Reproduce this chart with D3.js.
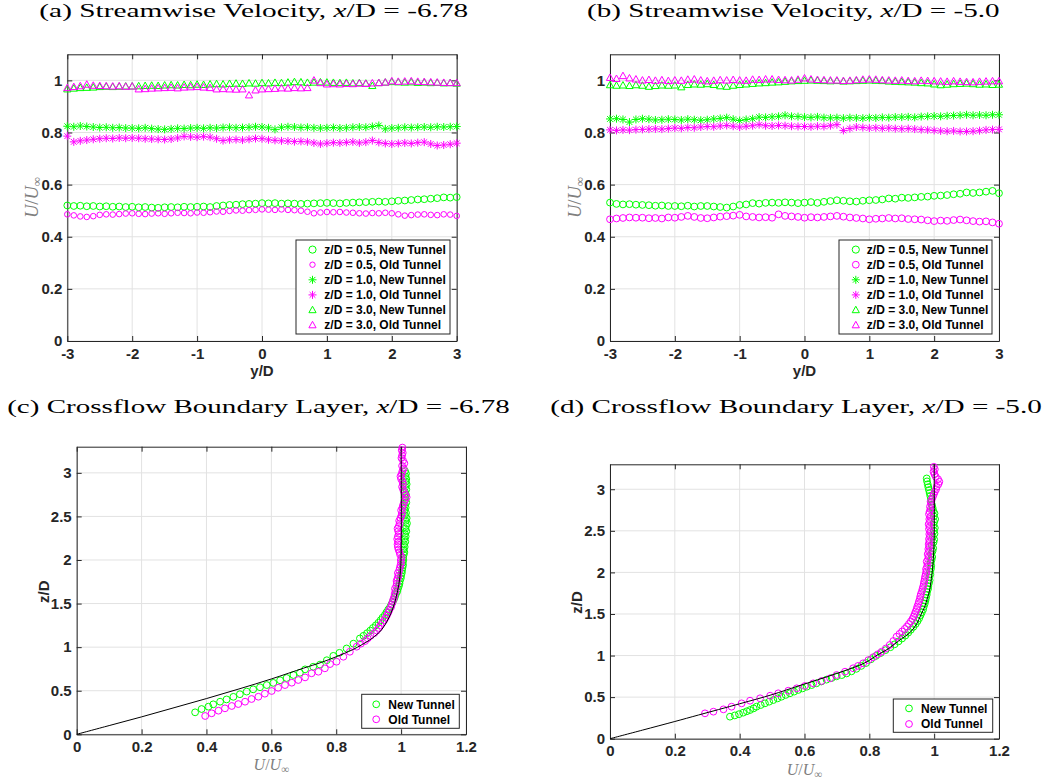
<!DOCTYPE html>
<html>
<head>
<meta charset="utf-8">
<script src="https://cdn.jsdelivr.net/npm/d3@7"></script>
<style>
  body { margin: 0; background: #fff; }
  svg { display: block; font-family: "Liberation Sans", Arial, sans-serif; }
  .tick text { font-weight: bold; font-size: 15px; fill: #262626; }
</style>
</head>
<body>
<script>
// ---- data ----
const yD = [-3.0,-2.9,-2.8,-2.7,-2.6,-2.5,-2.4,-2.3,-2.2,-2.1,
  -2.0,-1.9,-1.8,-1.7,-1.6,-1.5,-1.4,-1.3,-1.2,-1.1,
  -1.0,-0.9,-0.8,-0.7,-0.6,-0.5,-0.4,-0.3,-0.2,-0.1,
  0.0,0.1,0.2,0.3,0.4,0.5,0.6,0.7,0.8,0.9,
  1.0,1.1,1.2,1.3,1.4,1.5,1.6,1.7,1.8,1.9,
  2.0,2.1,2.2,2.3,2.4,2.5,2.6,2.7,2.8,2.9,
  3.0];

// (a) x/D = -6.78
const aNew05 = [0.520,0.518,0.519,0.517,0.518,0.516,0.517,0.515,0.516,0.514,
  0.515,0.513,0.514,0.512,0.511,0.513,0.514,0.513,0.515,0.514,
  0.515,0.516,0.514,0.518,0.520,0.522,0.523,0.525,0.526,0.527,
  0.529,0.528,0.529,0.527,0.528,0.527,0.526,0.527,0.528,0.529,
  0.530,0.529,0.528,0.530,0.531,0.532,0.533,0.534,0.535,0.534,
  0.536,0.538,0.539,0.541,0.543,0.544,0.546,0.548,0.551,0.550,
  0.552];
const aOld05 = [0.486,0.482,0.478,0.476,0.479,0.484,0.486,0.485,0.487,0.489,
  0.490,0.488,0.487,0.489,0.490,0.488,0.490,0.492,0.491,0.490,
  0.493,0.492,0.494,0.497,0.496,0.499,0.501,0.500,0.502,0.503,
  0.505,0.504,0.503,0.505,0.503,0.502,0.500,0.496,0.490,0.493,
  0.495,0.494,0.495,0.493,0.492,0.490,0.489,0.491,0.490,0.492,
  0.490,0.486,0.481,0.483,0.485,0.486,0.484,0.483,0.486,0.485,
  0.480];
const aNew10 = [0.824,0.822,0.825,0.823,0.821,0.819,0.820,0.818,0.819,0.817,
  0.817,0.816,0.818,0.815,0.813,0.812,0.814,0.816,0.815,0.817,
  0.818,0.816,0.818,0.817,0.819,0.820,0.818,0.819,0.820,0.822,
  0.821,0.818,0.812,0.820,0.822,0.821,0.819,0.820,0.818,0.817,
  0.818,0.819,0.817,0.818,0.820,0.821,0.820,0.823,0.827,0.814,
  0.817,0.818,0.820,0.819,0.820,0.821,0.820,0.822,0.821,0.822,
  0.823];
const aOld10 = [0.786,0.764,0.768,0.771,0.774,0.776,0.778,0.777,0.779,0.778,
  0.779,0.778,0.776,0.775,0.774,0.773,0.775,0.779,0.785,0.783,
  0.782,0.784,0.782,0.776,0.769,0.772,0.773,0.771,0.774,0.777,
  0.776,0.772,0.770,0.768,0.767,0.765,0.766,0.764,0.760,0.756,
  0.759,0.761,0.760,0.762,0.764,0.760,0.763,0.769,0.762,0.758,
  0.756,0.758,0.760,0.758,0.761,0.763,0.756,0.750,0.752,0.755,
  0.759];
const aNew30 = [0.966,0.969,0.971,0.972,0.973,0.975,0.976,0.975,0.976,0.977,
  0.977,0.978,0.979,0.980,0.979,0.981,0.982,0.981,0.983,0.982,
  0.984,0.983,0.985,0.986,0.985,0.987,0.988,0.987,0.989,0.988,
  0.990,0.989,0.991,0.990,0.992,0.994,0.993,0.991,0.992,0.993,
  0.992,0.991,0.990,0.991,0.989,0.990,0.988,0.979,0.990,0.992,
  0.994,0.993,0.992,0.993,0.991,0.992,0.990,0.991,0.989,0.990,
  0.988];
const aOld30 = [0.971,0.975,0.978,0.984,0.980,0.979,0.978,0.977,0.978,0.976,
  0.977,0.966,0.967,0.969,0.970,0.971,0.972,0.970,0.973,0.974,
  0.975,0.973,0.971,0.966,0.967,0.966,0.965,0.966,0.943,0.962,
  0.966,0.967,0.968,0.970,0.969,0.971,0.970,0.971,1.000,0.990,
  0.985,0.986,0.985,0.987,0.986,0.988,0.987,0.989,0.990,0.992,
  0.997,0.995,0.996,0.997,0.995,0.994,0.993,0.992,0.991,0.990,
  0.990];

// (b) x/D = -5.0
const bNew05 = [0.531,0.526,0.524,0.525,0.523,0.522,0.521,0.519,0.520,0.518,
  0.518,0.517,0.519,0.516,0.518,0.518,0.516,0.514,0.512,0.516,
  0.522,0.524,0.529,0.527,0.530,0.531,0.530,0.532,0.531,0.529,
  0.531,0.533,0.530,0.534,0.537,0.540,0.538,0.536,0.535,0.538,
  0.540,0.541,0.543,0.547,0.546,0.550,0.549,0.551,0.553,0.554,
  0.557,0.558,0.560,0.563,0.565,0.570,0.568,0.570,0.573,0.576,
  0.567];
const bOld05 = [0.467,0.470,0.472,0.474,0.473,0.473,0.471,0.472,0.470,0.474,
  0.473,0.476,0.480,0.476,0.472,0.471,0.474,0.477,0.479,0.481,
  0.484,0.478,0.476,0.474,0.475,0.473,0.486,0.480,0.478,0.476,
  0.473,0.475,0.474,0.476,0.478,0.480,0.477,0.474,0.472,0.470,
  0.467,0.469,0.470,0.472,0.470,0.471,0.468,0.467,0.466,0.463,
  0.460,0.462,0.461,0.464,0.466,0.463,0.460,0.458,0.459,0.455,
  0.450];
const bNew10 = [0.852,0.853,0.850,0.840,0.850,0.853,0.851,0.848,0.849,0.851,
  0.850,0.848,0.851,0.849,0.847,0.849,0.852,0.854,0.857,0.851,
  0.846,0.850,0.853,0.859,0.858,0.860,0.862,0.866,0.862,0.861,
  0.859,0.858,0.860,0.857,0.856,0.857,0.855,0.857,0.856,0.855,
  0.857,0.856,0.858,0.857,0.859,0.859,0.860,0.858,0.861,0.862,
  0.863,0.862,0.864,0.865,0.866,0.868,0.866,0.867,0.866,0.868,
  0.868];
const bOld10 = [0.810,0.808,0.810,0.809,0.811,0.812,0.813,0.814,0.813,0.815,
  0.817,0.816,0.819,0.818,0.821,0.823,0.822,0.825,0.827,0.824,
  0.821,0.824,0.826,0.830,0.826,0.825,0.827,0.826,0.824,0.823,
  0.823,0.822,0.824,0.823,0.826,0.830,0.808,0.815,0.821,0.819,
  0.817,0.818,0.816,0.817,0.815,0.814,0.815,0.813,0.811,0.810,
  0.808,0.806,0.805,0.806,0.804,0.804,0.805,0.807,0.810,0.811,
  0.812];
const bNew30 = [0.982,0.980,0.981,0.979,0.982,0.980,0.976,0.979,0.981,0.980,
  0.981,0.974,0.983,0.985,0.984,0.986,0.983,0.978,0.976,0.980,
  0.983,0.985,0.987,0.989,0.990,0.992,0.993,0.995,0.997,0.998,
  0.999,1.000,0.999,0.998,0.997,0.998,0.996,0.997,0.998,0.999,
  1.000,0.999,0.998,0.996,0.995,0.994,0.993,0.992,0.990,0.989,
  0.985,0.982,0.984,0.986,0.987,0.988,0.986,0.984,0.985,0.983,
  0.984];
const bOld30 = [1.010,1.006,1.017,1.008,1.004,1.000,1.002,0.999,1.001,0.998,
  1.000,0.999,1.003,1.004,1.000,0.997,0.999,1.001,1.000,1.002,
  1.000,0.999,1.003,1.002,1.004,1.004,1.002,1.001,1.000,1.003,
  1.008,1.004,1.002,1.001,1.000,1.000,0.998,0.999,1.001,1.003,
  1.004,1.003,1.001,1.000,0.999,1.000,0.998,0.997,0.999,0.998,
  0.997,0.996,0.995,0.997,0.995,0.994,0.993,0.995,0.996,0.997,
  0.997];

// (c) boundary layer x/D = -6.78, pairs [U/Uinf, z/D]
const cNew = [[0.365,0.252],[0.385,0.29],[0.406,0.317],[0.421,0.344],[0.442,0.374],[0.462,0.40],
  [0.483,0.43],[0.503,0.46],[0.524,0.49],[0.544,0.516],[0.565,0.54],[0.586,0.565],[0.606,0.59],
  [0.627,0.62],[0.647,0.646],[0.668,0.68],[0.688,0.706],[0.704,0.745],[0.729,0.775],[0.75,0.80],
  [0.771,0.85],[0.791,0.90],[0.81,0.935],[0.832,0.985],[0.853,1.04],[0.873,1.10],
  [0.884,1.13],[0.895,1.16],[0.905,1.19],[0.913,1.22],[0.922,1.25],[0.930,1.28],[0.937,1.31],
  [0.943,1.34],[0.950,1.37],[0.955,1.40],[0.960,1.43],[0.966,1.46],[0.970,1.49],[0.974,1.52],
  [0.978,1.55],[0.981,1.58],[0.984,1.61],[0.988,1.64],[0.990,1.67],[0.993,1.70],[0.995,1.73],
  [0.996,1.76],[0.999,1.79],[1.000,1.82],[1.002,1.85],[1.003,1.88],[1.004,1.91],[1.006,1.94],
  [1.005,1.97],[1.007,2.00],[1.006,2.03],[1.008,2.06],[1.010,2.09],[1.007,2.12],[1.011,2.15],
  [1.009,2.18],[1.013,2.21],[1.010,2.24],[1.014,2.27],[1.012,2.30],[1.016,2.33],[1.013,2.36],
  [1.015,2.39],[1.018,2.42],[1.014,2.45],[1.017,2.48],[1.012,2.51],[1.015,2.54],[1.011,2.57],
  [1.014,2.60],[1.012,2.63],[1.016,2.66],[1.013,2.69],[1.011,2.72],[1.015,2.75],[1.012,2.78],
  [1.016,2.81],[1.013,2.84],[1.017,2.87],[1.014,2.90],[1.016,2.93],[1.013,2.96],[1.015,2.99],
  [1.012,3.02]];
const cOld = [[0.396,0.21],[0.416,0.241],[0.437,0.271],[0.457,0.298],[0.478,0.325],[0.498,0.347],
  [0.519,0.374],[0.539,0.405],[0.56,0.431],[0.58,0.466],[0.601,0.497],[0.621,0.534],[0.642,0.565],
  [0.663,0.592],[0.683,0.623],[0.704,0.653],[0.724,0.70],[0.745,0.718],[0.765,0.757],[0.781,0.806],
  [0.801,0.833],[0.822,0.89],[0.842,0.947],[0.863,1.005],[0.876,1.04],[0.889,1.07],[0.897,1.10],
  [0.906,1.13],[0.917,1.16],[0.925,1.19],[0.931,1.22],[0.936,1.25],[0.942,1.28],[0.948,1.31],
  [0.953,1.34],[0.957,1.37],[0.961,1.40],[0.964,1.43],[0.969,1.46],[0.971,1.49],[0.974,1.52],
  [0.976,1.55],[0.979,1.58],[0.980,1.61],[0.983,1.64],[0.981,1.67],[0.985,1.70],[0.987,1.73],
  [0.986,1.76],[0.989,1.79],[0.992,1.82],[0.990,1.85],[0.994,1.88],[0.996,1.91],[0.998,1.94],
  [1.000,1.97],[0.999,2.00],[1.002,2.03],[0.997,2.06],[0.995,2.09],[0.992,2.12],[0.990,2.15],
  [0.989,2.18],[0.991,2.21],[0.988,2.24],[0.990,2.27],[0.993,2.30],[0.991,2.33],[0.989,2.36],
  [0.993,2.39],[0.996,2.42],[0.994,2.45],[0.998,2.48],[1.001,2.51],[1.003,2.54],[1.000,2.57],
  [1.004,2.60],[1.006,2.63],[1.009,2.66],[1.012,2.69],[1.017,2.72],[1.013,2.75],[1.009,2.78],
  [1.006,2.81],[1.003,2.84],[1.006,2.87],[1.004,2.90],[1.000,2.93],[0.998,2.96],[1.002,2.99],
  [1.004,3.02],[1.008,3.05],[1.003,3.08],[1.010,3.11],[1.006,3.14],[1.001,3.17],[1.003,3.20],
  [1.005,3.23],[1.002,3.26],[1.004,3.29]];
const cRef = [[0,0],[0.1,0.1],[0.2,0.2],[0.3,0.305],[0.4,0.41],[0.5,0.52],[0.6,0.635],[0.7,0.76],
  [0.75,0.82],[0.8,0.89],[0.85,0.97],[0.88,1.03],[0.91,1.10],[0.94,1.20],[0.96,1.32],[0.975,1.45],
  [0.985,1.58],[0.993,1.72],[0.998,1.88],[1.0,2.05],[1.0,3.3]];

// (d) boundary layer x/D = -5.0
const dNew = [[0.37,0.265],[0.385,0.28],[0.398,0.295],[0.411,0.313],[0.422,0.33],[0.432,0.345],
  [0.443,0.365],[0.452,0.385],[0.465,0.405],[0.478,0.425],[0.491,0.445],[0.504,0.465],[0.517,0.485],
  [0.529,0.505],[0.542,0.526],[0.555,0.546],[0.568,0.566],[0.581,0.586],[0.594,0.605],[0.607,0.625],
  [0.622,0.645],[0.637,0.666],[0.652,0.688],[0.668,0.71],[0.684,0.73],[0.699,0.75],[0.715,0.765],
  [0.73,0.785],[0.745,0.81],[0.76,0.84],[0.775,0.875],[0.79,0.91],[0.805,0.955],[0.82,0.995],
  [0.835,1.03],[0.85,1.065],[0.865,1.10],[0.878,1.135],[0.89,1.17],[0.901,1.205],[0.911,1.24],
  [0.920,1.275],[0.928,1.31],[0.936,1.345],[0.943,1.38],[0.949,1.415],[0.954,1.45],[0.958,1.485],
  [0.962,1.52],[0.966,1.555],[0.968,1.59],[0.971,1.625],[0.973,1.66],[0.975,1.695],[0.977,1.73],
  [0.978,1.765],[0.981,1.80],[0.982,1.835],[0.984,1.87],[0.986,1.905],[0.985,1.94],[0.988,1.975],
  [0.987,2.01],[0.990,2.045],[0.991,2.08],[0.989,2.115],[0.992,2.15],[0.994,2.185],[0.991,2.22],
  [0.995,2.255],[0.997,2.29],[0.993,2.325],[0.998,2.36],[1.000,2.395],[0.996,2.43],[1.001,2.465],
  [0.999,2.50],[1.002,2.535],[0.998,2.57],[1.000,2.605],[1.003,2.64],[0.999,2.675],[1.001,2.71],
  [0.997,2.745],[0.995,2.78],[0.993,2.815],[0.991,2.85],[0.990,2.885],[0.988,2.92],[0.986,2.955],
  [0.984,2.99],[0.982,3.025],[0.980,3.06],[0.978,3.095],[0.977,3.13]];
const dOld = [[0.293,0.305],[0.319,0.325],[0.35,0.353],[0.375,0.385],[0.406,0.425],[0.432,0.457],
  [0.463,0.486],[0.494,0.517],[0.519,0.546],[0.55,0.577],[0.576,0.606],[0.601,0.634],[0.627,0.666],
  [0.653,0.694],[0.679,0.726],[0.699,0.766],[0.725,0.806],[0.75,0.847],[0.765,0.875],[0.781,0.907],
  [0.797,0.945],[0.812,0.98],[0.826,1.015],[0.838,1.046],[0.851,1.085],[0.863,1.127],[0.874,1.175],
  [0.884,1.227],[0.893,1.26],[0.901,1.29],[0.909,1.32],[0.916,1.35],[0.922,1.38],[0.928,1.41],
  [0.933,1.44],[0.937,1.47],[0.940,1.50],[0.943,1.53],[0.946,1.56],[0.948,1.59],[0.951,1.62],
  [0.953,1.65],[0.956,1.68],[0.957,1.71],[0.959,1.74],[0.962,1.77],[0.964,1.80],[0.966,1.83],
  [0.968,1.86],[0.969,1.89],[0.971,1.92],[0.972,1.95],[0.974,1.98],[0.976,2.01],[0.975,2.04],
  [0.978,2.07],[0.980,2.10],[0.977,2.13],[0.981,2.16],[0.983,2.19],[0.980,2.22],[0.984,2.25],
  [0.982,2.28],[0.985,2.31],[0.983,2.34],[0.986,2.37],[0.984,2.40],[0.987,2.43],[0.985,2.46],
  [0.988,2.49],[0.984,2.52],[0.986,2.55],[0.983,2.58],[0.987,2.61],[0.985,2.64],[0.988,2.67],
  [0.984,2.70],[0.986,2.73],[0.989,2.76],[0.987,2.79],[0.991,2.82],[0.989,2.85],[0.993,2.88],
  [0.996,2.91],[0.999,2.94],[1.002,2.97],[1.006,3.00],[1.008,3.03],[1.013,3.06],[1.016,3.09],
  [1.012,3.12],[1.005,3.15],[1.001,3.18],[0.998,3.21],[1.002,3.24],[0.999,3.27]];
const dRef = [[0,0],[0.1,0.103],[0.2,0.207],[0.273,0.285],[0.4,0.42],[0.5,0.53],[0.581,0.634],
  [0.7,0.785],[0.787,0.914],[0.825,1.007],[0.858,1.08],[0.887,1.167],[0.91,1.23],[0.928,1.287],
  [0.946,1.38],[0.959,1.488],[0.971,1.59],[0.979,1.688],[0.986,1.79],[0.990,1.888],[0.995,2.05],
  [0.998,2.21],[1.0,2.4],[1.0,3.3]];

const velXTicks = [-3, -2, -1, 0, 1, 2, 3];
const velYTicks = [0, 0.2, 0.4, 0.6, 0.8, 1];
const blXTicks = [0, 0.2, 0.4, 0.6, 0.8, 1, 1.2];
const blYTicks = [0, 0.5, 1, 1.5, 2, 2.5, 3];

const velLegend = ["z/D = 0.5, New Tunnel", "z/D = 0.5, Old Tunnel", "z/D = 1.0, New Tunnel",
  "z/D = 1.0, Old Tunnel", "z/D = 3.0, New Tunnel", "z/D = 3.0, Old Tunnel"];
const blLegend = ["New Tunnel", "Old Tunnel"];

const titleText = ["(a) Streamwise Velocity, ", "(b) Streamwise Velocity, ",
  "(c) Crossflow Boundary Layer, ", "(d) Crossflow Boundary Layer, "];
const titleVal = ["-6.78", "-5.0", "-6.78", "-5.0"];

// ---- drawing ----
const GREEN = "#00ff00", MAGENTA = "#ff00ff", AX = "#262626";
const svg = d3.select("body").append("svg").attr("width", 1050).attr("height", 784);

function markerPath(type, s) {
    if (type === "o") {
        const p = d3.path();
        p.moveTo(s, 0);
        p.arc(0, 0, s, 0, 2 * Math.PI);
        return p.toString();
    }
    if (type === "*") {
        const k = s * 0.72;
        return `M${-s},0H${s}M0,${-s}V${s}M${-k},${-k}L${k},${k}M${-k},${k}L${k},${-k}`;
    }
    // up triangle
    return `M0,${-s * 1.05}L${s},${s * 0.75}L${-s},${s * 0.75}Z`;
}

function mathLabel(g, tx, ty, rotate, size) {
    const t = g.append("text")
        .attr("transform", `translate(${tx},${ty})` + (rotate ? " rotate(-90)" : ""))
        .attr("text-anchor", "middle")
        .style("font-family", "'Liberation Serif','Times New Roman',serif")
        .style("font-size", size + "px")
        .style("fill", "#7f7f7f");
    t.append("tspan").style("font-style", "italic").text("U");
    t.append("tspan").text("/");
    t.append("tspan").style("font-style", "italic").text("U");
    t.append("tspan").attr("dy", 3).style("font-size", (size * 0.7) + "px").text("\u221e");
}

function drawPanel(p) {
    const x = d3.scaleLinear().domain(p.xDomain).range([p.left, p.right]);
    const y = d3.scaleLinear().domain(p.yDomain).range([p.bottom, p.top]);
    const g = svg.append("g");

    // grid
    g.append("g").selectAll("line").data(p.xTicks).join("line")
        .attr("x1", d => x(d)).attr("x2", d => x(d))
        .attr("y1", p.top).attr("y2", p.bottom)
        .attr("stroke", "#e2e2e2").attr("stroke-width", 1);
    g.append("g").selectAll("line").data(p.yTicks).join("line")
        .attr("x1", p.left).attr("x2", p.right)
        .attr("y1", d => y(d)).attr("y2", d => y(d))
        .attr("stroke", "#e2e2e2").attr("stroke-width", 1);

    // axes, ticks pointing inward on all four sides
    const fmt = d => String(d);
    g.append("g").attr("transform", `translate(0,${p.bottom})`)
        .call(d3.axisBottom(x).tickValues(p.xTicks).tickFormat(fmt).tickSizeInner(-5).tickSizeOuter(0).tickPadding(7));
    g.append("g").attr("transform", `translate(0,${p.top})`)
        .call(d3.axisTop(x).tickValues(p.xTicks).tickFormat("").tickSizeInner(-5).tickSizeOuter(0));
    g.append("g").attr("transform", `translate(${p.left},0)`)
        .call(d3.axisLeft(y).tickValues(p.yTicks).tickFormat(fmt).tickSizeInner(-5).tickSizeOuter(0).tickPadding(5));
    g.append("g").attr("transform", `translate(${p.right},0)`)
        .call(d3.axisRight(y).tickValues(p.yTicks).tickFormat("").tickSizeInner(-5).tickSizeOuter(0));
    g.selectAll(".domain, .tick line").attr("stroke", AX).attr("stroke-width", 1);
    g.selectAll(".tick text").attr("font-family", null);

    // data
    p.series.forEach(s => {
        g.append("g").selectAll("path").data(s.pts).join("path")
            .attr("transform", d => `translate(${x(d[0])},${y(d[1])})`)
            .attr("d", markerPath(s.type, s.size))
            .attr("fill", "none").attr("stroke", s.color).attr("stroke-width", 1);
    });

    if (p.ref) {
        g.append("path").datum(p.ref)
            .attr("d", d3.line().x(d => x(d[0])).y(d => y(d[1])).curve(d3.curveCatmullRom.alpha(0.5)))
            .attr("fill", "none").attr("stroke", "#000").attr("stroke-width", 1);
    }

    // legend
    const L = p.legend;
    const lg = g.append("g");
    lg.append("rect").attr("x", L.x).attr("y", L.y).attr("width", L.w).attr("height", L.h)
        .attr("fill", "#fff").attr("stroke", AX).attr("stroke-width", 1);
    L.labels.forEach((lab, i) => {
        const s = p.series[i];
        const ry = L.row0 + i * L.step;
        lg.append("path").attr("transform", `translate(${L.x + L.mx},${ry})`)
            .attr("d", markerPath(s.type, s.legSize || s.size))
            .attr("fill", "none").attr("stroke", s.color).attr("stroke-width", 1);
        lg.append("text").attr("x", L.x + L.tx).attr("y", ry).attr("dy", "0.36em")
            .style("font-size", "12px").style("font-weight", "bold").style("fill", "#000")
            .text(lab);
    });

    // axis labels
    if (p.xlabelMath) {
        mathLabel(g, (p.left + p.right) / 2, p.xlabelY, false, 16);
    } else {
        g.append("text").attr("x", (p.left + p.right) / 2).attr("y", p.xlabelY)
            .attr("text-anchor", "middle").style("font-size", "15px").style("font-weight", "bold")
            .style("fill", AX).text(p.xlabel);
    }
    if (p.ylabelMath) {
        mathLabel(g, p.ylabelX, p.ylabelY, true, 18.5);
    } else {
        g.append("text").attr("transform", `translate(${p.ylabelX},${p.ylabelY}) rotate(-90)`)
            .attr("text-anchor", "middle").style("font-size", "15px").style("font-weight", "bold")
            .style("fill", AX).text(p.ylabel);
    }
}

function velSeries(n05, o05, n10, o10, n30, o30, smallOld) {
    const z = v => yD.map((d, i) => [d, v[i]]);
    return [
        {pts: z(n05), type: "o", size: 3.4, color: GREEN, legSize: 3.6},
        {pts: z(o05), type: "o", size: smallOld ? 2.8 : 3.4, color: MAGENTA, legSize: smallOld ? 2.7 : 3.4},
        {pts: z(n10), type: "*", size: 4, color: GREEN},
        {pts: z(o10), type: "*", size: 4, color: MAGENTA},
        {pts: z(n30), type: "^", size: 3.6, color: GREEN},
        {pts: z(o30), type: "^", size: 3.6, color: MAGENTA}
    ];
}

const panels = [
    {left: 67.3, right: 456.7, top: 54.3, bottom: 341, xDomain: [-3, 3], yDomain: [0, 1.1],
     xTicks: velXTicks, yTicks: velYTicks,
     series: velSeries(aNew05, aOld05, aNew10, aOld10, aNew30, aOld30, true),
     legend: {x: 296, y: 240, w: 154, h: 94, row0: 249.6, step: 15.1, mx: 16.5, tx: 28.3, labels: velLegend},
     xlabel: "y/D", xlabelY: 376, ylabelMath: true, ylabelX: 38, ylabelY: 197.5},
    {left: 610, right: 999, top: 54.3, bottom: 341, xDomain: [-3, 3], yDomain: [0, 1.1],
     xTicks: velXTicks, yTicks: velYTicks,
     series: velSeries(bNew05, bOld05, bNew10, bOld10, bNew30, bOld30, false),
     legend: {x: 839, y: 240, w: 153, h: 94, row0: 249.6, step: 15.1, mx: 16.8, tx: 27.8, labels: velLegend},
     xlabel: "y/D", xlabelY: 376, ylabelMath: true, ylabelX: 580.5, ylabelY: 197.5},
    {left: 76.7, right: 466, top: 446.7, bottom: 734.3, xDomain: [0, 1.2], yDomain: [0, 3.3],
     xTicks: blXTicks, yTicks: blYTicks,
     series: [{pts: cNew, type: "o", size: 3.4, color: GREEN}, {pts: cOld, type: "o", size: 3.4, color: MAGENTA}],
     ref: cRef,
     legend: {x: 361.7, y: 694.3, w: 97.6, h: 34, row0: 704.3, step: 15, mx: 14.5, tx: 26.6, labels: blLegend},
     xlabelMath: true, xlabelY: 770, ylabel: "z/D", ylabelX: 49, ylabelY: 591.7},
    {left: 610, right: 999, top: 464.3, bottom: 738.7, xDomain: [0, 1.2], yDomain: [0, 3.3],
     xTicks: blXTicks, yTicks: blYTicks,
     series: [{pts: dNew, type: "o", size: 3.4, color: GREEN}, {pts: dOld, type: "o", size: 3.4, color: MAGENTA}],
     ref: dRef,
     legend: {x: 893.3, y: 699, w: 99.4, h: 33.3, row0: 708.4, step: 15.6, mx: 15.7, tx: 27.7, labels: blLegend},
     xlabelMath: true, xlabelY: 774.5, ylabel: "z/D", ylabelX: 582, ylabelY: 602.5}
];

panels.forEach(drawPanel);

// subfigure captions, stretched to the measured caption widths
const capPos = [
    {cx: 253.8, y: 17.3, w: 429},
    {cx: 793.3, y: 17.3, w: 413},
    {cx: 258.5, y: 412.7, w: 503},
    {cx: 796, y: 412.7, w: 492}
];
capPos.forEach((c, i) => {
    const t = svg.append("text").attr("x", 0).attr("y", 0)
        .attr("text-anchor", "middle")
        .style("font-family", "'Liberation Serif','Times New Roman',serif")
        .style("font-size", "19px").style("fill", "#000");
    t.append("tspan").text(titleText[i]);
    t.append("tspan").style("font-style", "italic").text("x");
    t.append("tspan").text("/D = " + titleVal[i]);
    const w = t.node().getBBox().width;
    t.attr("transform", `translate(${c.cx},${c.y}) scale(${c.w / w},1)`);
});
</script>
</body>
</html>
